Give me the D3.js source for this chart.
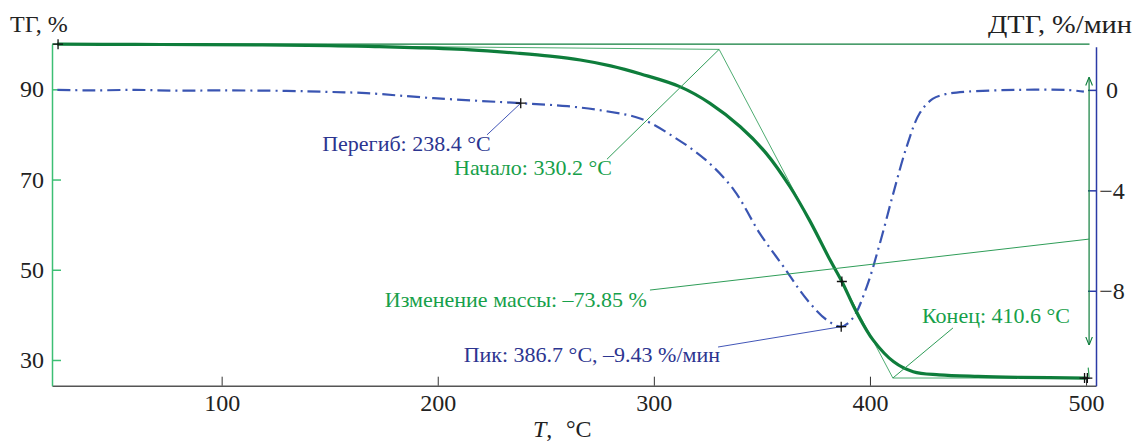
<!DOCTYPE html>
<html>
<head>
<meta charset="utf-8">
<script src="https://cdnjs.cloudflare.com/ajax/libs/d3/7.8.5/d3.min.js"></script>
<style>
  body { margin: 0; background: #fff; }
</style>
</head>
<body>
<svg id="chart" width="1135" height="443"></svg>
<script>
// ТГ кривая (температура, %)
const tgTemp = [24, 60, 90, 150, 173, 192, 209, 223, 237, 252, 266, 280, 294, 312, 326, 340, 352, 363, 372, 381.5, 387, 394, 401.5, 411, 420, 432, 450, 470, 500];
const tgMass = [100, 99.95, 99.9, 99.7, 99.45, 99.2, 98.9, 98.5, 98.0, 97.35, 96.5, 95.2, 93.4, 90.6, 86.9, 81.7, 75.8, 68.4, 61.0, 52.2, 47.4, 40.4, 34.4, 29.6, 27.4, 26.7, 26.35, 26.15, 26.0];

// ДТГ кривая (температура, %/мин)
const dtgTemp = [24, 40, 60, 80, 100, 130, 150, 167, 198, 238.4, 260, 278, 294, 309, 324, 337, 349, 360, 371, 380, 386.7, 392, 398.5, 404.6, 410.8, 417, 423, 429, 435, 445, 468, 491, 499];
const dtgRate = [0, -0.02, 0, -0.03, -0.02, -0.04, -0.08, -0.13, -0.33, -0.53, -0.65, -0.85, -1.15, -1.86, -2.79, -3.98, -5.71, -7.04, -8.37, -9.16, -9.43, -9.1, -7.84, -6.11, -4.12, -2.26, -0.93, -0.36, -0.17, -0.07, 0, 0, -0.07];

const xTicks = [100, 200, 300, 400, 500];
const tgTicks = [30, 50, 70, 90];
const dtgTicks = [0, -4, -8];

// точки построения начала/конца
const onsetT = 330.2, endT = 410.6;
const baseLine = [[150, 99.65], [onsetT, 98.85]];
const tangent = [[onsetT, 98.85], [endT, 26.0]];
const endLine = [[endT, 26.0], [500, 26.0]];
const massArrow = [92.7, 33.3]; // стрелка изменения массы, %

const green = '#17a04a', darkGreen = '#0e7d3b', lineGreen = '#2f9d58';
const blue = '#2c3590', curveBlue = '#3a55b2';
const FONT = '"Liberation Serif", "Times New Roman", serif';

const svg = d3.select('#chart');

// SCALES
const x = d3.scaleLinear().domain([21.5, 504.6]).range([52, 1096]);
const yTG = d3.scaleLinear().domain([24.3, 100]).range([385.7, 44.2]);
const yDTG = d3.scaleLinear().domain([-11.78, 1.72]).range([385.7, 46.7]);

// ОСИ
const xAxis = d3.axisBottom(x).tickValues(xTicks).tickSizeInner(-9).tickSizeOuter(0).tickPadding(8);
const gx = svg.append('g').attr('transform', 'translate(0,385.7)').call(xAxis);
gx.select('.domain').attr('stroke', '#555').attr('stroke-width', 1.5);
gx.selectAll('.tick line').attr('stroke', '#333');

const yAxisL = d3.axisLeft(yTG).tickValues(tgTicks).tickSizeInner(-9).tickSizeOuter(0).tickPadding(8);
const gl = svg.append('g').attr('transform', 'translate(52,0)').call(yAxisL);
gl.select('.domain').attr('stroke', '#3cbf74').attr('stroke-width', 1.5);
gl.selectAll('.tick line').attr('stroke', '#3cbf74').attr('stroke-width', 1.5);

const yAxisR = d3.axisRight(yDTG).tickValues(dtgTicks).tickSizeInner(-8).tickSizeOuter(0)
  .tickFormat(d => d < 0 ? '\u2212' + Math.abs(d) : d);
const gr = svg.append('g').attr('transform', 'translate(1096,0)').call(yAxisR);
gr.select('.domain').attr('stroke', '#2b3aa6').attr('stroke-width', 1.5);
gr.selectAll('.tick line').attr('stroke', '#2b3aa6').attr('stroke-width', 1.5);
gr.selectAll('text').attr('text-anchor', 'middle').attr('x', 16);

[gx, gl, gr].forEach(g => {
  g.selectAll('text').style('font-size', '24px').attr('fill', '#222');
});

// подписи осей
svg.append('text').attr('x', 10).attr('y', 32).style('font-size', '24px').attr('fill', '#222').text('ТГ, %');
svg.append('text').attr('x', 988).attr('y', 33).style('font-size', '26px').attr('fill', '#222')
  .attr('textLength', 144).attr('lengthAdjust', 'spacingAndGlyphs').text('ДТГ, %/мин');
const xl = svg.append('text').attr('y', 437).style('font-size', '24px').attr('fill', '#222');
xl.append('tspan').attr('x', 533).attr('font-style', 'italic').text('T');
xl.append('tspan').text(',');
xl.append('tspan').attr('x', 566).text('°C');

// линия 100 %
svg.append('line')
  .attr('x1', x.range()[0]).attr('x2', x(501.6))
  .attr('y1', yTG(100)).attr('y2', yTG(100))
  .attr('stroke', darkGreen).attr('stroke-width', 1.2);

const seg = (pts, sy) => d3.line().x(d => x(d[0])).y(d => sy(d[1]))(pts);

// построение касательных
[baseLine, tangent, endLine].forEach(p => {
  svg.append('path').attr('d', seg(p, yTG)).attr('fill', 'none')
    .attr('stroke', lineGreen).attr('stroke-width', 1).attr('opacity', 0.85);
});

// ДТГ
const dtgData = dtgTemp.map((t, i) => [t, dtgRate[i]]);
svg.append('path')
  .attr('d', d3.line().x(d => x(d[0])).y(d => yDTG(d[1])).curve(d3.curveCatmullRom.alpha(0.5))(dtgData))
  .attr('fill', 'none').attr('stroke', curveBlue).attr('stroke-width', 2.2)
  .attr('stroke-dasharray', '13,5,2,5');

// ТГ
const tgData = tgTemp.map((t, i) => [t, tgMass[i]]);
svg.append('path')
  .attr('d', d3.line().x(d => x(d[0])).y(d => yTG(d[1])).curve(d3.curveCatmullRom.alpha(0.5))(tgData))
  .attr('fill', 'none').attr('stroke', darkGreen).attr('stroke-width', 3.2);

// стрелка изменения массы
const defs = svg.append('defs');
defs.append('marker').attr('id', 'arr').attr('viewBox', '0 0 10 10').attr('refX', 10).attr('refY', 5)
  .attr('markerWidth', 7).attr('markerHeight', 9).attr('orient', 'auto-start-reverse')
  .append('path').attr('d', 'M0,1 L10,5 L0,9').attr('fill', 'none').attr('stroke', darkGreen).attr('stroke-width', 1.3);
svg.append('line')
  .attr('x1', x(501.4)).attr('x2', x(501.4))
  .attr('y1', yTG(massArrow[0])).attr('y2', yTG(massArrow[1]))
  .attr('stroke', darkGreen).attr('stroke-width', 1.2)
  .attr('marker-start', 'url(#arr)').attr('marker-end', 'url(#arr)');
svg.append('line')
  .attr('x1', x(501)).attr('x2', x(501.4))
  .attr('y1', yTG(28.3)).attr('y2', yTG(26.2))
  .attr('stroke', lineGreen).attr('stroke-width', 1.2);

// выноски: [текст, цвет, шкала, точка текста, якорь, линия]
const notes = [
  ['Перегиб: 238.4 °C', blue, yDTG, [224.5, -2.43], 'end', [[222.8, -1.79], [238.4, -0.53]]],
  ['Начало: 330.2 °C', green, yTG, [280.6, 71.0], 'end', [[278.3, 74.5], [onsetT, 98.85]]],
  ['Изменение массы: \u201373.85 %', green, yTG, [296.8, 41.75], 'end', [[298.2, 45.5], [501.4, 56.8]]],
  ['Пик: 386.7 °C, \u20139.43 %/мин', blue, yDTG, [330.6, -10.84], 'end', [[329.7, -10.24], [386.7, -9.43]]],
  ['Конец: 410.6 °C', green, yTG, [424.1, 38.2], 'start', [[438.4, 37.1], [endT, 26.0]]]
];
notes.forEach(n => {
  svg.append('path').attr('d', seg(n[5], n[2])).attr('fill', 'none')
    .attr('stroke', n[1] === blue ? '#4256b8' : lineGreen).attr('stroke-width', 1);
  svg.append('text').attr('x', x(n[3][0])).attr('y', n[2](n[3][1]))
    .attr('text-anchor', n[4]).style('font-size', '22px').attr('fill', n[1]).text(n[0]);
});

// маркеры "+"
const marks = [[24.3, 100, yTG], [238.4, -0.53, yDTG], [387, 47.4, yTG], [386.7, -9.43, yDTG], [499.3, 26.0, yTG], [500.6, 26.0, yTG]];
marks.forEach(m => {
  const cx = x(m[0]), cy = m[2](m[1]);
  svg.append('path').attr('d', `M${cx - 5},${cy}H${cx + 5}M${cx},${cy - 5}V${cy + 5}`)
    .attr('stroke', '#111').attr('stroke-width', 1.3);
});

// шрифт для всех подписей
svg.selectAll('text').style('font-family', FONT);
</script>
</body>
</html>
